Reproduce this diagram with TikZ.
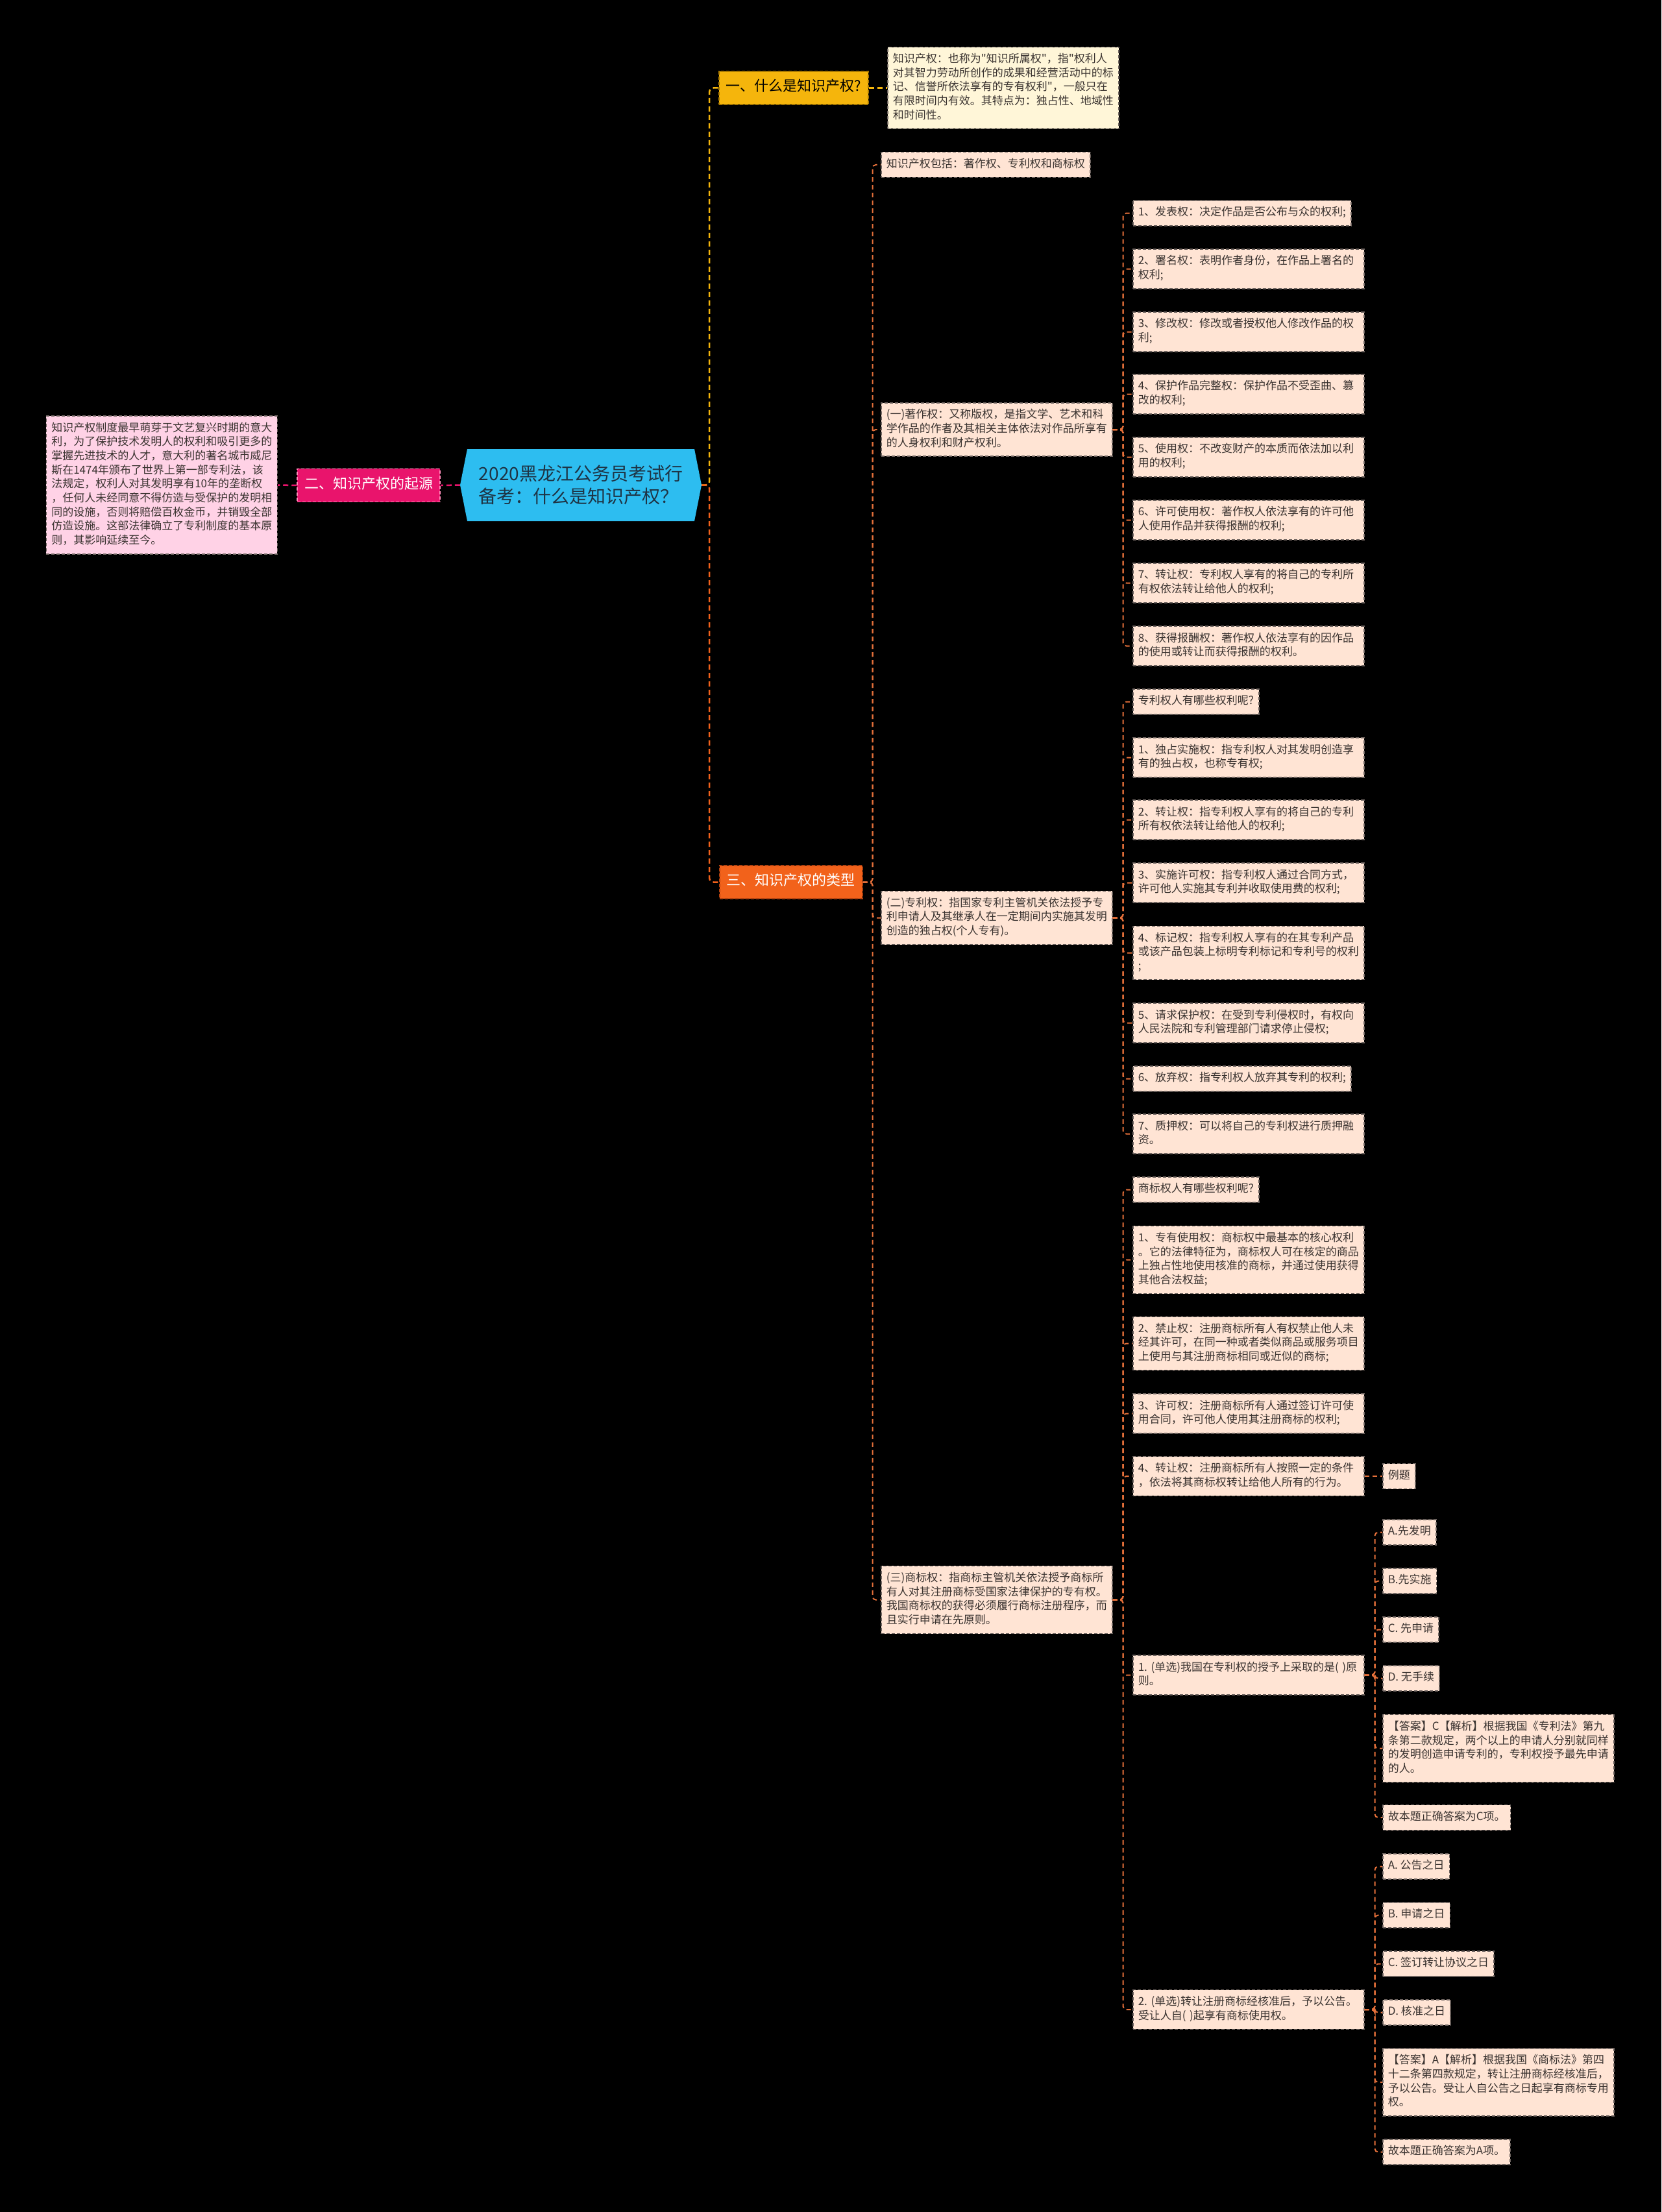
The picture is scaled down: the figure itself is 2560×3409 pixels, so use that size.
\documentclass[tikz,border=0pt]{standalone}
\usepackage{fontspec}
\newfontfamily\cjk{Noto Sans CJK SC}
\definecolor{Night}{HTML}{000000}
\definecolor{RootBlue}{HTML}{2DBDF0}
\definecolor{RootInk}{HTML}{1E3445}
\definecolor{Gold}{HTML}{F5B50C}
\definecolor{GoldEdge}{HTML}{A87800}
\definecolor{Rose}{HTML}{E9146C}
\definecolor{RoseEdge}{HTML}{FF8CBA}
\definecolor{Ember}{HTML}{F2621B}
\definecolor{EmberEdge}{HTML}{B44210}
\definecolor{Twig}{HTML}{E5703A}
\definecolor{Peach}{HTML}{FFE4D4}
\definecolor{Cream}{HTML}{FFF6D8}
\definecolor{Blush}{HTML}{FFD2E6}
\definecolor{LeafEdge}{HTML}{6E6460}
\definecolor{LeafInk}{HTML}{3A3330}
\tikzset{
  rootbox/.style={fill=Night, minimum width=372pt, minimum height=111pt, inner sep=0pt, align=left, text=RootInk,
    font=\cjk\fontsize{28pt}{35pt}\selectfont,
    path picture={\fill[RootBlue] ([xshift=11pt]path picture bounding box.north west) -- (path picture bounding box.west)
      -- ([xshift=11pt]path picture bounding box.south west) -- ([xshift=-11pt]path picture bounding box.south east)
      -- (path picture bounding box.east) -- ([xshift=-11pt]path picture bounding box.north east) -- cycle;}},
  topic/.style={line width=1.5pt, dash pattern=on 5pt off 3pt, inner xsep=11pt, inner ysep=12.5pt,
    font=\cjk\fontsize{22pt}{26pt}\selectfont, execute at begin node=\strut},
  leaf/.style={draw=LeafEdge, line width=1.5pt, dash pattern=on 5pt off 3pt, fill=Peach, text=LeafInk,
    inner xsep=8pt, inner ysep=8.65pt, align=left, anchor=west, font=\cjk\fontsize{17pt}{21.7pt}\selectfont,
    execute at begin node=\strut, execute at end node=\strut},
  wide/.style={text width=340pt},
  branch/.style={line width=2.5pt, dash pattern=on 8pt off 5pt, rounded corners=6pt},
  twig/.style={draw=Twig, line width=2pt, dash pattern=on 7pt off 5pt, rounded corners=5pt},
}
\begin{document}
\begin{tikzpicture}[x=1pt, y=-1pt]
    \fill[Night] (0,0) rectangle (2560,3409);
    \node[rootbox] (root) at (895,747.5) {2020黑龙江公务员考试行\\备考：什么是知识产权？};
    \node[topic, fill=Gold, draw=GoldEdge, text=black, anchor=west] (what) at (1107,135.5) {一、什么是知识产权?};
    \node[leaf, wide, fill=Cream] (whatdef) at (1367,135.5) {知识产权：也称为"知识所属权"，指"权利人\\对其智力劳动所创作的成果和经营活动中的标\\记、信誉所依法享有的专有权利"，一般只在\\有限时间内有效。其特点为：独占性、地域性\\和时间性。};
    \node[topic, fill=Rose, draw=RoseEdge, text=white] (origin) at (568,748) {二、知识产权的起源};
    \node[leaf, wide, fill=Blush, anchor=east] (origindef) at (428,747.5) {知识产权制度最早萌芽于文艺复兴时期的意大\\利，为了保护技术发明人的权利和吸引更多的\\掌握先进技术的人才，意大利的著名城市威尼\\斯在1474年颁布了世界上第一部专利法，该\\法规定，权利人对其发明享有10年的垄断权\\，任何人未经同意不得仿造与受保护的发明相\\同的设施，否则将赔偿百枚金币，并销毁全部\\仿造设施。这部法律确立了专利制度的基本原\\则，其影响延续至今。};
    \node[topic, fill=Ember, draw=EmberEdge, text=white, anchor=west] (types) at (1108,1359.5) {三、知识产权的类型};

    \node[leaf] (incl) at (1357,254) {知识产权包括：著作权、专利权和商标权};
    \node[leaf, wide] (copy) at (1357,662) {(一)著作权：又称版权，是指文学、艺术和科\\学作品的作者及其相关主体依法对作品所享有\\的人身权利和财产权利。};
    \node[leaf, wide] (patent) at (1357,1414.5) {(二)专利权：指国家专利主管机关依法授予专\\利申请人及其继承人在一定期间内实施其发明\\创造的独占权(个人专有)。};
    \node[leaf, wide] (mark) at (1357,2465.5) {(三)商标权：指商标主管机关依法授予商标所\\有人对其注册商标受国家法律保护的专有权。\\我国商标权的获得必须履行商标注册程序，而\\且实行申请在先原则。};

    \node[leaf] (c1) at (1745,328.5) {1、发表权：决定作品是否公布与众的权利;};
    \node[leaf, wide] (c2) at (1745,414.5) {2、署名权：表明作者身份，在作品上署名的\\权利;};
    \node[leaf, wide] (c3) at (1745,511.5) {3、修改权：修改或者授权他人修改作品的权\\利;};
    \node[leaf, wide] (c4) at (1745,607.5) {4、保护作品完整权：保护作品不受歪曲、篡\\改的权利;};
    \node[leaf, wide] (c5) at (1745,704.5) {5、使用权：不改变财产的本质而依法加以利\\用的权利;};
    \node[leaf, wide] (c6) at (1745,801.5) {6、许可使用权：著作权人依法享有的许可他\\人使用作品并获得报酬的权利;};
    \node[leaf, wide] (c7) at (1745,898.5) {7、转让权：专利权人享有的将自己的专利所\\有权依法转让给他人的权利;};
    \node[leaf, wide] (c8) at (1745,995.5) {8、获得报酬权：著作权人依法享有的因作品\\的使用或转让而获得报酬的权利。};

    \node[leaf] (pq) at (1745,1081.5) {专利权人有哪些权利呢?};
    \node[leaf, wide] (p1) at (1745,1167.5) {1、独占实施权：指专利权人对其发明创造享\\有的独占权，也称专有权;};
    \node[leaf, wide] (p2) at (1745,1263.5) {2、转让权：指专利权人享有的将自己的专利\\所有权依法转让给他人的权利;};
    \node[leaf, wide] (p3) at (1745,1360.5) {3、实施许可权：指专利权人通过合同方式，\\许可他人实施其专利并收取使用费的权利;};
    \node[leaf, wide] (p4) at (1745,1468.5) {4、标记权：指专利权人享有的在其专利产品\\或该产品包装上标明专利标记和专利号的权利\\;};
    \node[leaf, wide] (p5) at (1745,1576.5) {5、请求保护权：在受到专利侵权时，有权向\\人民法院和专利管理部门请求停止侵权;};
    \node[leaf] (p6) at (1745,1662.5) {6、放弃权：指专利权人放弃其专利的权利;};
    \node[leaf, wide] (p7) at (1745,1747.5) {7、质押权：可以将自己的专利权进行质押融\\资。};

    \node[leaf] (mq) at (1745,1833.5) {商标权人有哪些权利呢?};
    \node[leaf, wide] (m1) at (1745,1941.5) {1、专有使用权：商标权中最基本的核心权利\\。它的法律特征为，商标权人可在核定的商品\\上独占性地使用核准的商标，并通过使用获得\\其他合法权益;};
    \node[leaf, wide] (m2) at (1745,2070.5) {2、禁止权：注册商标所有人有权禁止他人未\\经其许可，在同一种或者类似商品或服务项目\\上使用与其注册商标相同或近似的商标;};
    \node[leaf, wide] (m3) at (1745,2178.5) {3、许可权：注册商标所有人通过签订许可使\\用合同，许可他人使用其注册商标的权利;};
    \node[leaf, wide] (m4) at (1745,2275) {4、转让权：注册商标所有人按照一定的条件\\，依法将其商标权转让给他人所有的行为。};
    \node[leaf] (ex) at (2130,2275) {例题};
    \node[leaf, wide] (q1) at (1745,2581.5) {1.~(单选)我国在专利权的授予上采取的是(~)原\\则。};
    \node[leaf, wide] (q2) at (1745,3097) {2.~(单选)转让注册商标经核准后，予以公告。\\受让人自(~)起享有商标使用权。};

    \node[leaf] (qa1) at (2130,2361.5) {A.先发明};
    \node[leaf] (qb1) at (2130,2436.5) {B.先实施};
    \node[leaf] (qc1) at (2130,2511.5) {C.~先申请};
    \node[leaf] (qd1) at (2130,2586.5) {D.~无手续};
    \node[leaf, wide] (qk1) at (2130,2694.5) {【答案】C【解析】根据我国《专利法》第九\\条第二款规定，两个以上的申请人分别就同样\\的发明创造申请专利的，专利权授予最先申请\\的人。};
    \node[leaf] (qf1) at (2130,2801) {故本题正确答案为C项。};

    \node[leaf] (qa2) at (2130,2876.5) {A.~公告之日};
    \node[leaf] (qb2) at (2130,2951.5) {B.~申请之日};
    \node[leaf] (qc2) at (2130,3026.5) {C.~签订转让协议之日};
    \node[leaf] (qd2) at (2130,3101.5) {D.~核准之日};
    \node[leaf, wide] (qk2) at (2130,3209) {【答案】A【解析】根据我国《商标法》第四\\十二条第四款规定，转让注册商标经核准后，\\予以公告。受让人自公告之日起享有商标专用\\权。};
    \node[leaf] (qf2) at (2130,3316.5) {故本题正确答案为A项。};

    \draw[branch, draw=Gold] (root.east) -- ++(12,0) |- (what.west);
    \draw[branch, draw=Gold] (what.east) -- (whatdef.west);
    \draw[branch, draw=Rose] (root.west) -- (origin.east);
    \draw[branch, draw=Rose] (origin.west) -- (origindef.east);
    \draw[branch, draw=Ember] (root.east) -- ++(12,0) |- (types.west);

    \draw[twig] (types.east) -- ++(15,0) |- (incl.west);
    \draw[twig] (types.east) -- ++(15,0) |- (copy.west);
    \draw[twig] (types.east) -- ++(15,0) |- (patent.west);
    \draw[twig] (types.east) -- ++(15,0) |- (mark.west);

    \draw[twig] (copy.east) -- ++(16,0) |- (c1.west);
    \draw[twig] (copy.east) -- ++(16,0) |- (c2.west);
    \draw[twig] (copy.east) -- ++(16,0) |- (c3.west);
    \draw[twig] (copy.east) -- ++(16,0) |- (c4.west);
    \draw[twig] (copy.east) -- ++(16,0) |- (c5.west);
    \draw[twig] (copy.east) -- ++(16,0) |- (c6.west);
    \draw[twig] (copy.east) -- ++(16,0) |- (c7.west);
    \draw[twig] (copy.east) -- ++(16,0) |- (c8.west);

    \draw[twig] (patent.east) -- ++(16,0) |- (pq.west);
    \draw[twig] (patent.east) -- ++(16,0) |- (p1.west);
    \draw[twig] (patent.east) -- ++(16,0) |- (p2.west);
    \draw[twig] (patent.east) -- ++(16,0) |- (p3.west);
    \draw[twig] (patent.east) -- ++(16,0) |- (p4.west);
    \draw[twig] (patent.east) -- ++(16,0) |- (p5.west);
    \draw[twig] (patent.east) -- ++(16,0) |- (p6.west);
    \draw[twig] (patent.east) -- ++(16,0) |- (p7.west);

    \draw[twig] (mark.east) -- ++(16,0) |- (mq.west);
    \draw[twig] (mark.east) -- ++(16,0) |- (m1.west);
    \draw[twig] (mark.east) -- ++(16,0) |- (m2.west);
    \draw[twig] (mark.east) -- ++(16,0) |- (m3.west);
    \draw[twig] (mark.east) -- ++(16,0) |- (m4.west);
    \draw[twig] (mark.east) -- ++(16,0) |- (q1.west);
    \draw[twig] (mark.east) -- ++(16,0) |- (q2.west);
    \draw[twig] (m4.east) -- (ex.west);

    \draw[twig] (q1.east) -- ++(16,0) |- (qa1.west);
    \draw[twig] (q1.east) -- ++(16,0) |- (qb1.west);
    \draw[twig] (q1.east) -- ++(16,0) |- (qc1.west);
    \draw[twig] (q1.east) -- ++(16,0) |- (qd1.west);
    \draw[twig] (q1.east) -- ++(16,0) |- (qk1.west);
    \draw[twig] (q1.east) -- ++(16,0) |- (qf1.west);

    \draw[twig] (q2.east) -- ++(16,0) |- (qa2.west);
    \draw[twig] (q2.east) -- ++(16,0) |- (qb2.west);
    \draw[twig] (q2.east) -- ++(16,0) |- (qc2.west);
    \draw[twig] (q2.east) -- ++(16,0) |- (qd2.west);
    \draw[twig] (q2.east) -- ++(16,0) |- (qk2.west);
    \draw[twig] (q2.east) -- ++(16,0) |- (qf2.west);
\end{tikzpicture}
\end{document}
